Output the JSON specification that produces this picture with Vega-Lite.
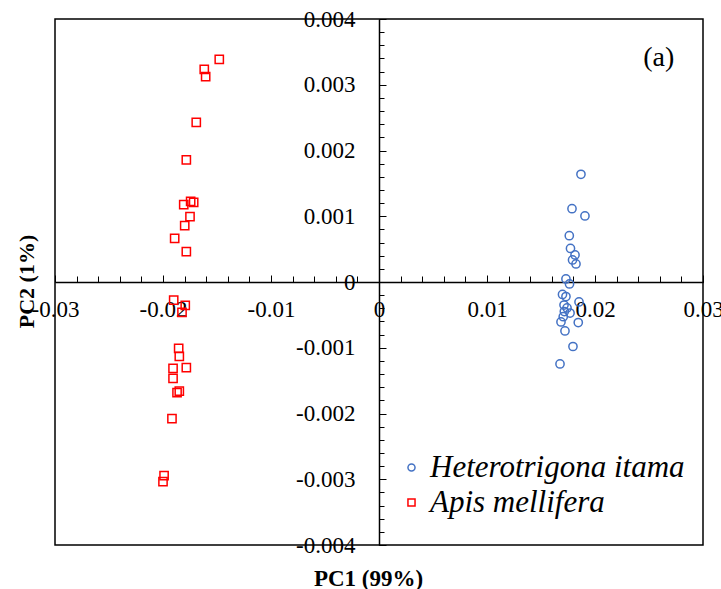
{
  "$schema": "https://vega.github.io/schema/vega-lite/v6.json",
  "width": 648,
  "height": 526,
  "autosize": {"type": "none"},
  "padding": {"left": 55, "top": 19, "right": 18, "bottom": 44},
  "background": "white",
  "config": {
    "view": {"stroke": "#000", "strokeWidth": 1.5},
    "font": "Times New Roman, Liberation Serif, serif",
    "axis": {"grid": false, "domainColor": "#000", "tickColor": "#000", "labelColor": "#000", "titleColor": "#000", "labelFont": "Times New Roman, Liberation Serif, serif", "titleFont": "Times New Roman, Liberation Serif, serif"}
  },
  "layer": [
    {
      "data": {"values": [
        {"species": "Heterotrigona itama", "pc1": 0.0187, "pc2": 0.001638},
        {"species": "Heterotrigona itama", "pc1": 0.01787, "pc2": 0.001115},
        {"species": "Heterotrigona itama", "pc1": 0.01907, "pc2": 0.001004},
        {"species": "Heterotrigona itama", "pc1": 0.01762, "pc2": 0.000704},
        {"species": "Heterotrigona itama", "pc1": 0.01773, "pc2": 0.00051},
        {"species": "Heterotrigona itama", "pc1": 0.01815, "pc2": 0.000411},
        {"species": "Heterotrigona itama", "pc1": 0.01792, "pc2": 0.000335},
        {"species": "Heterotrigona itama", "pc1": 0.01824, "pc2": 0.000274},
        {"species": "Heterotrigona itama", "pc1": 0.01731, "pc2": 0.000046},
        {"species": "Heterotrigona itama", "pc1": 0.01764, "pc2": -0.00003},
        {"species": "Heterotrigona itama", "pc1": 0.01699, "pc2": -0.00019},
        {"species": "Heterotrigona itama", "pc1": 0.01731, "pc2": -0.000221},
        {"species": "Heterotrigona itama", "pc1": 0.01852, "pc2": -0.000304},
        {"species": "Heterotrigona itama", "pc1": 0.01713, "pc2": -0.00035},
        {"species": "Heterotrigona itama", "pc1": 0.01741, "pc2": -0.000395},
        {"species": "Heterotrigona itama", "pc1": 0.01716, "pc2": -0.000449},
        {"species": "Heterotrigona itama", "pc1": 0.01769, "pc2": -0.000472},
        {"species": "Heterotrigona itama", "pc1": 0.01706, "pc2": -0.000528},
        {"species": "Heterotrigona itama", "pc1": 0.01685, "pc2": -0.000608},
        {"species": "Heterotrigona itama", "pc1": 0.01845, "pc2": -0.000616},
        {"species": "Heterotrigona itama", "pc1": 0.01722, "pc2": -0.000745},
        {"species": "Heterotrigona itama", "pc1": 0.01796, "pc2": -0.000981},
        {"species": "Heterotrigona itama", "pc1": 0.01676, "pc2": -0.001247},
        {"species": "Apis mellifera", "pc1": -0.01479, "pc2": 0.003387},
        {"species": "Apis mellifera", "pc1": -0.01618, "pc2": 0.003235},
        {"species": "Apis mellifera", "pc1": -0.01605, "pc2": 0.003123},
        {"species": "Apis mellifera", "pc1": -0.01692, "pc2": 0.002429},
        {"species": "Apis mellifera", "pc1": -0.01784, "pc2": 0.001856},
        {"species": "Apis mellifera", "pc1": -0.01808, "pc2": 0.001176},
        {"species": "Apis mellifera", "pc1": -0.01744, "pc2": 0.001227},
        {"species": "Apis mellifera", "pc1": -0.01716, "pc2": 0.001212},
        {"species": "Apis mellifera", "pc1": -0.0175, "pc2": 0.000993},
        {"species": "Apis mellifera", "pc1": -0.01799, "pc2": 0.000856},
        {"species": "Apis mellifera", "pc1": -0.01892, "pc2": 0.000665},
        {"species": "Apis mellifera", "pc1": -0.01784, "pc2": 0.000461},
        {"species": "Apis mellifera", "pc1": -0.01901, "pc2": -0.000274},
        {"species": "Apis mellifera", "pc1": -0.01794, "pc2": -0.000354},
        {"species": "Apis mellifera", "pc1": -0.01824, "pc2": -0.000461},
        {"species": "Apis mellifera", "pc1": -0.01855, "pc2": -0.001008},
        {"species": "Apis mellifera", "pc1": -0.01849, "pc2": -0.00113},
        {"species": "Apis mellifera", "pc1": -0.01784, "pc2": -0.001303},
        {"species": "Apis mellifera", "pc1": -0.01907, "pc2": -0.001313},
        {"species": "Apis mellifera", "pc1": -0.01907, "pc2": -0.001465},
        {"species": "Apis mellifera", "pc1": -0.01849, "pc2": -0.001658},
        {"species": "Apis mellifera", "pc1": -0.0187, "pc2": -0.001684},
        {"species": "Apis mellifera", "pc1": -0.01917, "pc2": -0.002079},
        {"species": "Apis mellifera", "pc1": -0.0199, "pc2": -0.002946},
        {"species": "Apis mellifera", "pc1": -0.02, "pc2": -0.003037}
      ]},
      "mark": {"type": "point", "filled": false, "strokeWidth": 1.5, "size": 68, "opacity": 1},
      "encoding": {
        "x": {"field": "pc1", "type": "quantitative",
          "scale": {"domain": [-0.03, 0.03], "nice": false, "zero": false},
          "axis": {"orient": "bottom", "offset": -263, "values": [-0.03,-0.028,-0.026,-0.024,-0.022,-0.02,-0.018,-0.016,-0.014,-0.012,-0.01,-0.008,-0.006,-0.004,-0.002,0,0.002,0.004,0.006,0.008,0.01,0.012,0.014,0.016,0.018,0.02,0.022,0.024,0.026,0.028,0.03],
            "labels": false, "tickSize": -6, "tickWidth": 1, "domainWidth": 1.5, "title": null}},
        "y": {"field": "pc2", "type": "quantitative",
          "scale": {"domain": [-0.004, 0.004], "nice": false, "zero": false},
          "axis": {"orient": "left", "offset": -324, "values": [-0.004,-0.0038,-0.0036,-0.0034,-0.0032,-0.003,-0.0028,-0.0026,-0.0024,-0.0022,-0.002,-0.0018,-0.0016,-0.0014,-0.0012,-0.001,-0.0008,-0.0006,-0.0004,-0.0002,0,0.0002,0.0004,0.0006,0.0008,0.001,0.0012,0.0014,0.0016,0.0018,0.002,0.0022,0.0024,0.0026,0.0028,0.003,0.0032,0.0034,0.0036,0.0038,0.004],
            "labels": false, "tickSize": -5, "tickWidth": 1, "domainWidth": 1.5, "title": null}},
        "shape": {"field": "species", "type": "nominal",
          "scale": {"domain": ["Heterotrigona itama", "Apis mellifera"], "range": ["circle", "square"]},
          "legend": {"orient": "none", "legendX": 341, "legendY": 433, "title": null, "padding": 0, "labelFont": "Times New Roman, Liberation Serif, serif", "labelFontStyle": "italic", "labelFontSize": 31, "labelColor": "#000", "labelLimit": 0, "symbolSize": 50, "symbolStrokeWidth": 1.5, "rowPadding": 3, "labelOffset": 3}},
        "color": {"field": "species", "type": "nominal",
          "scale": {"domain": ["Heterotrigona itama", "Apis mellifera"], "range": ["#4472C4", "#FF0000"]},
          "legend": {"orient": "none", "legendX": 341, "legendY": 433, "title": null, "padding": 0, "labelFont": "Times New Roman, Liberation Serif, serif", "labelFontStyle": "italic", "labelFontSize": 31, "labelColor": "#000", "labelLimit": 0, "symbolSize": 50, "symbolStrokeWidth": 1.5, "rowPadding": 3, "labelOffset": 3}}
      }
    },
    {
      "data": {"values": [{"pc1": 0.0259, "pc2": 0.0034, "label": "(a)"}]},
      "mark": {"type": "text", "fontSize": 28, "font": "Times New Roman, Liberation Serif, serif", "color": "#000"},
      "encoding": {
        "x": {"field": "pc1", "type": "quantitative",
          "scale": {"domain": [-0.03, 0.03], "nice": false, "zero": false},
          "axis": {"orient": "bottom", "offset": -263, "values": [-0.03,-0.02,-0.01,0,0.01,0.02,0.03], "tickSize": -7, "tickWidth": 1, "domain": false,
            "labelExpr": "replace(format(datum.value, '.2~f'), '\u2212', '-')",
            "labelFontSize": 23, "labelPadding": 23, "labelFlush": false, "labelOverlap": false, "labelBound": false,
            "title": "PC1 (99%)", "titleFontWeight": "bold", "titleFontSize": 23, "titleX": 313, "titleY": 296, "titleBaseline": "middle", "titleAlign": "center"}},
        "y": {"field": "pc2", "type": "quantitative",
          "scale": {"domain": [-0.004, 0.004], "nice": false, "zero": false},
          "axis": {"orient": "left", "offset": -324, "values": [-0.004,-0.003,-0.002,-0.001,0,0.001,0.002,0.003,0.004], "tickSize": -7, "tickWidth": 1, "domain": false,
            "labelExpr": "replace(format(datum.value, '.3~f'), '\u2212', '-')",
            "labelFontSize": 23, "labelPadding": 31, "labelFlush": false, "labelOverlap": false, "labelBound": false,
            "title": "PC2 (1%)", "titleFontWeight": "bold", "titleFontSize": 22, "titleX": -353, "titleY": 262, "titleBaseline": "middle", "titleAlign": "center", "titleAngle": -90}},
        "text": {"field": "label"}
      }
    }
  ],
  "resolve": {"axis": {"x": "independent", "y": "independent"}}
}
